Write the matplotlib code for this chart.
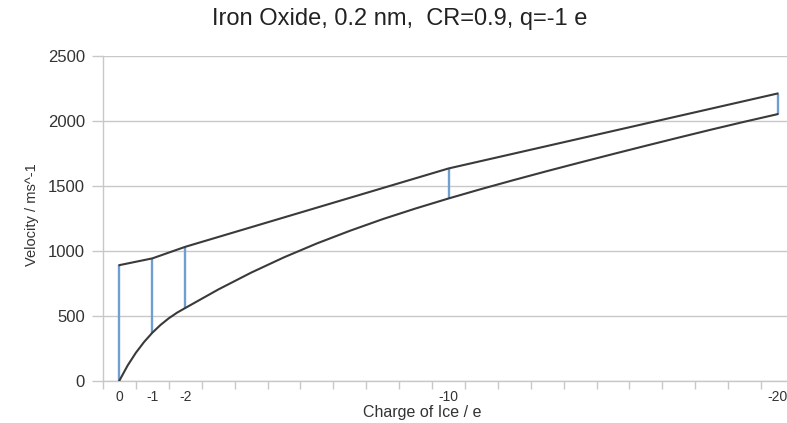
import matplotlib
matplotlib.use("Agg")
import matplotlib.pyplot as plt
import numpy as np

plt.rcParams['font.family'] = ['Liberation Sans', 'DejaVu Sans']

# Data
charge_points = [0, -1, -2, -10, -20]
upper_velocity = [888, 940, 1029, 1632, 2209]

lower_charge = [0, -0.25, -0.5, -0.75, -1, -1.25, -1.5, -1.75, -2, -3, -4, -5, -6, -7, -8, -9,
                -10, -11, -12, -13, -14, -15, -16, -17, -18, -19, -20]
lower_velocity = [0, 116, 214, 297, 368, 428, 479, 522, 558, 700, 830, 948, 1055, 1152, 1242,
                  1324, 1401, 1474, 1544, 1612, 1678, 1743, 1807, 1870, 1932, 1992, 2050]

tick_labels = ['0', '-1', '-2', '-10', '-20']
y_ticks = [0, 500, 1000, 1500, 2000, 2500]

W, H = 787, 423
fig = plt.figure(figsize=(W / 100, H / 100), dpi=100)
left_px, right_px, top_px, bot_px = 103, 794, 55.7, 380.5
ax = fig.add_axes([left_px / W, 1 - bot_px / H, (right_px - left_px) / W, (bot_px - top_px) / H])

grid_c = '#c8c8c8'
line_c = '#3a3a3a'
blue_c = '#6f9fd0'

ax.set_xlim(0.5, -20.5)
ax.set_ylim(0, 2500)
ax.set_yticks(y_ticks)
ax.yaxis.grid(True, color=grid_c, linewidth=1.0)
ax.set_axisbelow(True)

# lines
ax.plot(charge_points, upper_velocity, color=line_c, linewidth=1.5, zorder=3,
        solid_joinstyle='round')
ax.plot(lower_charge, lower_velocity, color=line_c, linewidth=1.5, zorder=3,
        solid_joinstyle='round')

# blue connecting lines
lower_at = [lower_velocity[lower_charge.index(c)] for c in charge_points]
ax.vlines(charge_points, lower_at, upper_velocity, color=blue_c, linewidth=1.7, zorder=2)

for s in ['top', 'right']:
    ax.spines[s].set_visible(False)
for s in ['left', 'bottom']:
    ax.spines[s].set_color(grid_c)
    ax.spines[s].set_linewidth(1.0)

ax.set_xticks(charge_points)
ax.set_xticklabels(tick_labels)
ax.set_xticks(np.arange(0.5, -20.6, -1), minor=True)
ax.tick_params(axis='x', which='major', length=0, pad=6.5, labelsize=10, labelcolor='#333333')
ax.tick_params(axis='x', which='minor', length=6, color=grid_c, width=1.0)
ax.tick_params(axis='y', which='major', length=8, color=grid_c, width=1.0, pad=5,
               labelsize=12, labelcolor='#333333')

fig.text(422 / W, 1 - 412 / H, 'Charge of Ice / e', ha='center', va='center',
         fontsize=11.5, color='#333333')
fig.text(32 / W, 1 - 215 / H, 'Velocity / ms^-1', ha='center', va='center',
         rotation=90, fontsize=10.5, color='#333333')
fig.text(400 / W, 1 - 19 / H, 'Iron Oxide, 0.2 nm,  CR=0.9, q=-1 e', ha='center', va='center',
         fontsize=17, color='#222222')

fig.savefig('out.png', dpi=100)
